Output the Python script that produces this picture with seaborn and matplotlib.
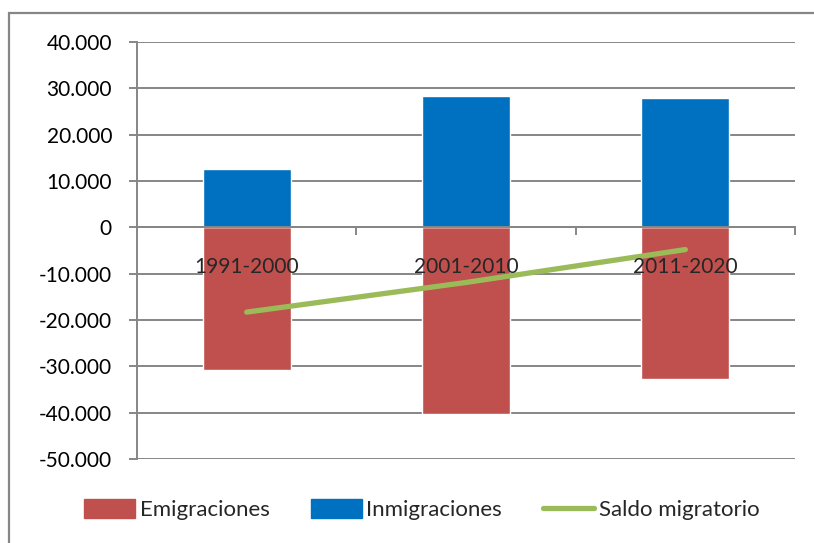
import numpy as np
import pandas as pd
import matplotlib
matplotlib.use("Agg")
import matplotlib.pyplot as plt
import matplotlib.ticker as mticker
from matplotlib.patches import Rectangle
from matplotlib.lines import Line2D
import seaborn as sns

# data
periodos = ["1991-2000", "2001-2010", "2011-2020"]
emigraciones = [-30800, -40200, -32800]
inmigraciones = [12500, 28300, 28000]
saldo = [-18300, -11900, -4800]

RED = "#C0504D"
BLUE = "#0070C0"
GREEN = "#9BBB59"
GRID = "#868686"

sns.set_style("white")
plt.rcParams["font.family"] = ["Lato", "DejaVu Sans"]


def miles(x, pos):
    """Formato con punto como separador de miles"""
    return f"{x:,.0f}".replace(",", ".")


df = pd.DataFrame({
    "periodo": periodos,
    "Emigraciones": emigraciones,
    "Inmigraciones": inmigraciones,
    "Saldo migratorio": saldo,
})

fig = plt.figure(figsize=(8.14, 5.43), dpi=100)
ax = fig.add_axes([137 / 814, 1 - 459 / 543, (795 - 137) / 814, (459 - 42) / 543])

sns.barplot(data=df, x="periodo", y="Emigraciones", color=RED, width=0.4,
            saturation=1, ax=ax, zorder=2)
sns.barplot(data=df, x="periodo", y="Inmigraciones", color=BLUE, width=0.4,
            saturation=1, ax=ax, zorder=2)
sns.lineplot(data=df, x="periodo", y="Saldo migratorio", color=GREEN,
             linewidth=3.8, ax=ax, zorder=4, solid_capstyle="round")

ax.set_ylim(-50000, 40000)
ax.set_xlim(-0.5, 2.5)
ax.yaxis.set_major_locator(mticker.MultipleLocator(10000))
ax.yaxis.set_major_formatter(mticker.FuncFormatter(miles))
ax.yaxis.grid(True, color=GRID, linewidth=1.4, zorder=0)
ax.set_axisbelow(True)
ax.set_xlabel("")
ax.set_ylabel("")

for s in ["top", "right"]:
    ax.spines[s].set_visible(False)
ax.spines["left"].set_color(GRID)
ax.spines["left"].set_linewidth(1.4)
ax.spines["bottom"].set_position(("data", 0))
ax.spines["bottom"].set_color(GRID)
ax.spines["bottom"].set_linewidth(1.4)

ax.tick_params(axis="y", which="major", left=True, length=6, width=1.4,
               color=GRID, labelsize=15, pad=12, labelcolor="black")
ax.set_xticks([0, 1, 2])
ax.set_xticklabels([])
ax.set_xticks([0.5, 1.5, 2.5], minor=True)
ax.tick_params(axis="x", which="major", bottom=False)
ax.tick_params(axis="x", which="minor", bottom=True, length=6, width=1.4,
               color=GRID)

# etiquetas de categoría dibujadas sobre las barras
for i, p in enumerate(periodos):
    ax.annotate(p, xy=(i, 0), xytext=(0, -28.5), textcoords="offset points",
                ha="center", va="center", fontsize=15, zorder=5)

handles = [
    Rectangle((0, 0), 1, 1, color=RED),
    Rectangle((0, 0), 1, 1, color=BLUE),
    Line2D([0], [0], color=GREEN, linewidth=3.8),
]
fig.legend(handles, ["Emigraciones", "Inmigraciones", "Saldo migratorio"],
           loc="center", bbox_to_anchor=(0.518, 0.061), ncol=3, frameon=False,
           fontsize=16, handlelength=2.3, handleheight=0.9, handletextpad=0.2,
           columnspacing=1.85)

# marco exterior del gráfico (recortado a la derecha y abajo)
fig.patches.append(Rectangle((9 / 814, -0.1), 1.2, (543 - 13) / 543 + 0.1,
                             transform=fig.transFigure, fill=False,
                             edgecolor=GRID, linewidth=1.6))

fig.savefig("out.png", dpi=100)
